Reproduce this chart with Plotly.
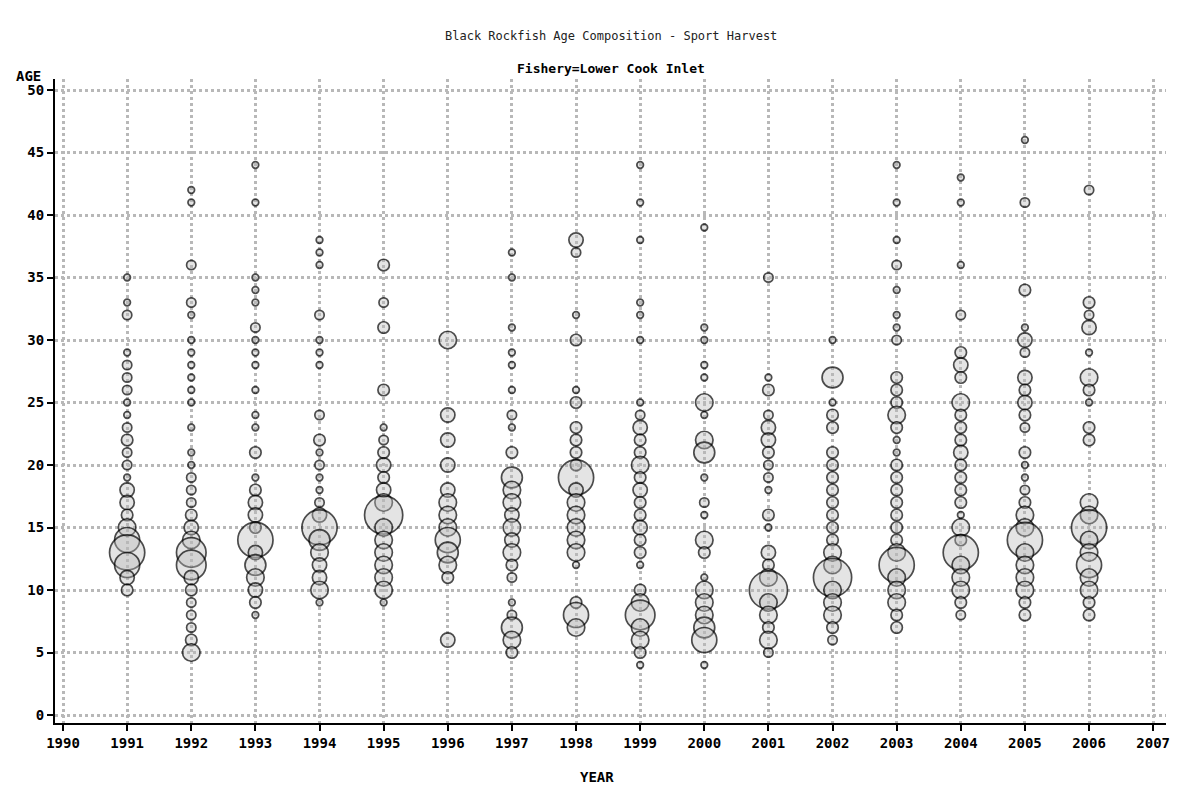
import plotly.graph_objects as go

years = list(range(1991, 2007))

ages_1991 = [35, 33, 32, 29, 28, 27, 26, 25, 24, 23, 22, 21, 20, 19, 18, 17, 16, 15, 14, 13, 12, 11, 10]
pct_1991 = [0.3, 0.3, 0.6, 0.3, 0.6, 0.6, 0.6, 0.3, 0.3, 0.6, 0.9, 0.6, 0.6, 0.3, 1.4, 1.4, 0.9, 2.1, 4.3, 8.5, 4.3, 1.4, 0.9]

ages_1992 = [42, 41, 36, 33, 32, 30, 29, 28, 27, 26, 25, 23, 21, 20, 19, 18, 17, 16, 15, 14, 13, 12, 11, 10, 9, 8, 7, 6, 5]
pct_1992 = [0.3, 0.3, 0.6, 0.6, 0.3, 0.3, 0.3, 0.3, 0.3, 0.3, 0.3, 0.3, 0.3, 0.3, 0.6, 0.6, 0.6, 0.9, 1.4, 2.1, 6.0, 6.0, 1.4, 0.9, 0.6, 0.6, 0.6, 0.9, 2.1]

ages_1993 = [44, 41, 35, 34, 33, 31, 30, 29, 28, 26, 24, 23, 21, 19, 18, 17, 16, 15, 14, 13, 12, 11, 10, 9, 8]
pct_1993 = [0.3, 0.3, 0.3, 0.3, 0.3, 0.6, 0.3, 0.3, 0.3, 0.3, 0.3, 0.3, 0.9, 0.3, 0.9, 1.4, 1.4, 0.9, 8.5, 1.4, 3.0, 2.1, 1.4, 0.9, 0.3]

ages_1994 = [38, 37, 36, 32, 30, 29, 28, 24, 22, 21, 20, 19, 18, 17, 16, 15, 14, 13, 12, 11, 10, 9]
pct_1994 = [0.3, 0.3, 0.3, 0.6, 0.3, 0.3, 0.3, 0.6, 0.9, 0.3, 0.6, 0.3, 0.3, 0.6, 1.4, 8.5, 3.0, 2.1, 1.4, 1.4, 2.1, 0.3]

ages_1995 = [36, 33, 31, 26, 23, 22, 21, 20, 19, 18, 17, 16, 15, 14, 13, 12, 11, 10, 9]
pct_1995 = [0.9, 0.6, 0.9, 0.9, 0.3, 0.6, 0.9, 1.4, 0.9, 1.4, 2.1, 10.0, 2.1, 2.1, 2.1, 2.1, 2.1, 2.1, 0.3]

ages_1996 = [30, 24, 22, 20, 18, 17, 16, 15, 14, 13, 12, 11, 6]
pct_1996 = [2.1, 1.4, 1.4, 1.4, 1.4, 2.1, 2.1, 2.1, 4.3, 3.0, 2.1, 0.9, 1.4]

ages_1997 = [37, 35, 31, 29, 28, 26, 24, 23, 21, 19, 18, 17, 16, 15, 14, 13, 12, 11, 9, 8, 7, 6, 5]
pct_1997 = [0.3, 0.3, 0.3, 0.3, 0.3, 0.3, 0.6, 0.3, 0.9, 3.0, 2.1, 2.1, 1.4, 2.1, 1.4, 2.1, 0.9, 0.6, 0.3, 0.6, 3.0, 2.1, 0.9]

ages_1998 = [38, 37, 32, 30, 26, 25, 23, 22, 21, 20, 19, 18, 17, 16, 15, 14, 13, 12, 9, 8, 7]
pct_1998 = [1.4, 0.6, 0.3, 0.9, 0.3, 0.9, 0.9, 0.9, 0.9, 0.9, 8.5, 1.4, 2.1, 2.1, 2.1, 2.1, 2.1, 0.3, 0.9, 4.3, 2.1]

ages_1999 = [44, 41, 38, 33, 32, 30, 25, 24, 23, 22, 21, 20, 19, 18, 17, 16, 15, 14, 13, 12, 10, 9, 8, 7, 6, 5, 4]
pct_1999 = [0.3, 0.3, 0.3, 0.3, 0.3, 0.3, 0.3, 0.6, 1.4, 0.9, 0.9, 2.1, 0.9, 1.4, 0.9, 0.9, 1.4, 0.9, 0.9, 0.3, 0.9, 2.1, 6.0, 2.1, 2.1, 0.9, 0.3]

ages_2000 = [39, 31, 30, 28, 27, 25, 24, 22, 21, 19, 17, 16, 14, 13, 11, 10, 9, 8, 7, 6, 4]
pct_2000 = [0.3, 0.3, 0.3, 0.3, 0.3, 2.1, 0.3, 2.1, 3.0, 0.3, 0.6, 0.3, 2.1, 0.9, 0.3, 2.1, 2.1, 2.1, 3.0, 4.3, 0.3]

ages_2001 = [35, 27, 26, 24, 23, 22, 21, 20, 19, 18, 16, 15, 13, 12, 11, 10, 9, 8, 7, 6, 5]
pct_2001 = [0.6, 0.3, 0.9, 0.6, 1.4, 1.4, 0.9, 0.6, 0.6, 0.3, 0.9, 0.3, 1.4, 0.9, 2.1, 10.0, 2.1, 2.1, 0.9, 2.1, 0.6]

ages_2002 = [30, 27, 25, 24, 23, 21, 20, 19, 18, 17, 16, 15, 14, 13, 12, 11, 10, 9, 8, 7, 6]
pct_2002 = [0.3, 3.0, 0.3, 0.9, 0.9, 0.9, 0.9, 0.9, 0.9, 0.9, 0.9, 0.9, 0.9, 2.1, 2.1, 10.0, 2.1, 2.1, 2.1, 0.9, 0.6]

ages_2003 = [44, 41, 38, 36, 34, 32, 31, 30, 27, 26, 25, 24, 23, 22, 21, 20, 19, 18, 17, 16, 15, 14, 13, 12, 11, 10, 9, 8, 7]
pct_2003 = [0.3, 0.3, 0.3, 0.6, 0.3, 0.3, 0.3, 0.6, 0.9, 0.9, 0.9, 2.1, 0.9, 0.3, 0.3, 0.9, 0.9, 0.9, 0.9, 0.9, 0.9, 0.9, 2.1, 8.5, 2.1, 2.1, 2.1, 0.9, 0.9]

ages_2004 = [43, 41, 36, 32, 29, 28, 27, 25, 24, 23, 22, 21, 20, 19, 18, 17, 16, 15, 14, 13, 12, 11, 10, 9, 8]
pct_2004 = [0.3, 0.3, 0.3, 0.6, 0.9, 1.4, 0.9, 2.1, 0.9, 0.9, 0.9, 1.4, 0.9, 0.9, 0.9, 0.9, 0.3, 2.1, 0.9, 8.5, 2.1, 2.1, 2.1, 0.9, 0.6]

ages_2005 = [46, 41, 34, 31, 30, 29, 27, 26, 25, 24, 23, 21, 20, 19, 18, 17, 16, 15, 14, 13, 12, 11, 10, 9, 8]
pct_2005 = [0.3, 0.6, 0.9, 0.3, 1.4, 0.6, 1.4, 0.9, 1.4, 0.9, 0.6, 0.9, 0.3, 0.3, 0.6, 0.9, 2.1, 2.1, 8.5, 2.1, 2.1, 2.1, 2.1, 0.9, 0.9]

ages_2006 = [42, 33, 32, 31, 29, 27, 26, 25, 23, 22, 17, 16, 15, 14, 13, 12, 11, 10, 9, 8]
pct_2006 = [0.6, 0.9, 0.6, 1.4, 0.3, 2.1, 0.9, 0.3, 0.9, 0.9, 2.1, 2.1, 8.5, 2.1, 2.1, 4.3, 2.1, 2.1, 0.9, 0.9]

x_ticks = list(range(1990, 2008))
y_ticks = list(range(0, 51, 5))

ages_by_year = {
    1991: (ages_1991, pct_1991), 1992: (ages_1992, pct_1992), 1993: (ages_1993, pct_1993),
    1994: (ages_1994, pct_1994), 1995: (ages_1995, pct_1995), 1996: (ages_1996, pct_1996),
    1997: (ages_1997, pct_1997), 1998: (ages_1998, pct_1998), 1999: (ages_1999, pct_1999),
    2000: (ages_2000, pct_2000), 2001: (ages_2001, pct_2001), 2002: (ages_2002, pct_2002),
    2003: (ages_2003, pct_2003), 2004: (ages_2004, pct_2004), 2005: (ages_2005, pct_2005),
    2006: (ages_2006, pct_2006),
}

xs, ys, ss = [], [], []
for yr in years:
    a, p = ages_by_year[yr]
    xs += [yr] * len(a)
    ys += a
    ss += p

max_size = max(ss)
max_diam = 27.0
sizeref = max_size / (max_diam ** 2)

fig = go.Figure()
fig.add_trace(go.Scatter(
    x=xs, y=ys, mode="markers",
    marker=dict(
        size=ss, sizemode="area", sizeref=sizeref, sizemin=3,
        color="rgba(185,185,185,0.55)",
        line=dict(color="black", width=1.7),
        symbol="circle",
    ),
    showlegend=False,
    hovertemplate="Year %{x}<br>Age %{y}<br>%{marker.size}%<extra></extra>",
))

tick_font = dict(family="DejaVu Sans Mono", size=14, color="black", weight="bold")

fig.update_layout(
    width=1181, height=789,
    margin=dict(l=55, r=15, t=79, b=66),
    paper_bgcolor="white", plot_bgcolor="white",
    font=dict(family="DejaVu Sans Mono", color="black"),
    xaxis=dict(
        range=[1989.875, 2007.2],
        tickmode="array", tickvals=x_ticks, ticktext=[str(v) for v in x_ticks],
        ticks="outside", ticklen=6, tickwidth=1.5, tickcolor="black",
        tickfont=tick_font,
        showline=True, linecolor="black", linewidth=2,
        showgrid=True, gridcolor="#b8b8b8", gridwidth=3, griddash="dot",
        zeroline=False,
    ),
    yaxis=dict(
        range=[-0.64, 50.88],
        tickmode="array", tickvals=y_ticks, ticktext=[str(v) for v in y_ticks],
        ticks="outside", ticklen=6, tickwidth=1.5, tickcolor="black",
        tickfont=tick_font,
        showline=True, linecolor="black", linewidth=2,
        showgrid=True, gridcolor="#b8b8b8", gridwidth=3, griddash="dot",
        zeroline=False,
    ),
    annotations=[
        dict(text="Black Rockfish Age Composition - Sport Harvest", x=0.5, xref="paper",
             y=36, yref="paper", yanchor="middle", showarrow=False,
             font=dict(family="DejaVu Sans Mono", size=12, color="#222")),
        dict(text="Fishery=Lower Cook Inlet", x=0.5, xref="paper",
             y=68, yref="paper", yanchor="middle", showarrow=False,
             font=dict(family="DejaVu Sans Mono", size=13, color="black", weight="bold")),
        dict(text="AGE", x=0, xref="paper", xanchor="right", xshift=-12,
             y=50, yref="y", yanchor="bottom", yshift=4, showarrow=False,
             font=dict(family="DejaVu Sans Mono", size=14, color="black", weight="bold")),
        dict(text="YEAR", x=(597 - 55) / 1111, xref="paper", y=0, yref="paper", yanchor="top",
             yshift=-44, showarrow=False,
             font=dict(family="DejaVu Sans Mono", size=14, color="black", weight="bold")),
    ],
)

# place the title lines in pixel terms (paper coordinates computed from the pixel rows)
plot_h = 789 - 79 - 66
for ann in fig.layout.annotations[:2]:
    px = ann.y
    ann.y = 1 + (79 - px) / plot_h

fig.write_html("out.html")
